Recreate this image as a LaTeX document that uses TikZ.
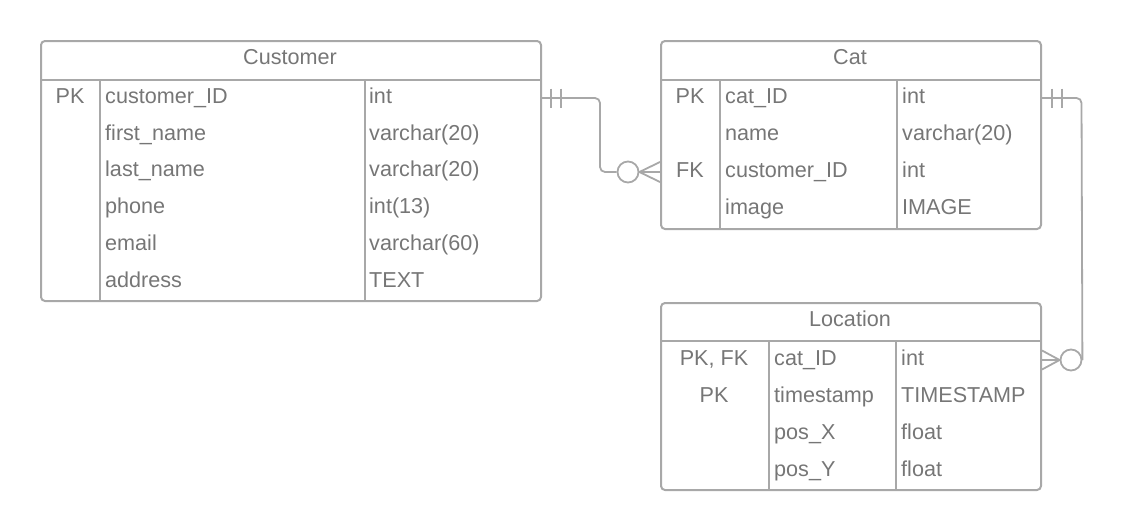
\documentclass[tikz,border=0pt]{standalone}
\usepackage{fontspec}
\setmainfont{Liberation Sans}
\usetikzlibrary{calc}
\definecolor{txt}{HTML}{767676}
\definecolor{ln}{HTML}{A8A8A8}
\begin{document}
\begin{tikzpicture}[x=1pt,y=-1pt,
  tblbox/.style={draw=ln, line width=2pt, rounded corners=4pt, inner sep=0pt, anchor=north west},
  sep/.style={draw=ln, line width=2pt},
  conn/.style={draw=ln, line width=1.8pt},
  ring/.style={circle, draw=ln, line width=1.8pt, minimum size=21pt, inner sep=0pt},
  lbl/.style={text=txt, inner sep=0pt, font=\fontsize{21.6}{23}\selectfont},
  lw/.style={lbl, anchor=base west},
  lc/.style={lbl, anchor=base}]
\useasboundingbox (0,0) rectangle (1122,530);

% ---------- Customer ----------
\node[tblbox, minimum width=500pt, minimum height=260pt] (customer) at (40,40) {};
\draw[sep] (customer.west |- 0,80) -- (customer.east |- 0,80);
\draw[sep] (100,80) -- (100,300);
\draw[sep] (365,80) -- (365,300);
\node[lc] (custh) at (290,64.5) {Customer};
\node[lc] (cpk) at (70,103.5) {PK};
\node[lw] (cn1) at (105,103.5) {customer\_ID};
\node[lw] (cn2) at (105,140.2) {first\_name};
\node[lw] (cn3) at (105,176.9) {last\_name};
\node[lw] (cn4) at (105,213.6) {phone};
\node[lw] (cn5) at (105,250.3) {email};
\node[lw] (cn6) at (105,287.0) {address};
\node[lw] (ct1) at (369,103.5) {int};
\node[lw] (ct2) at (369,140.2) {varchar(20)};
\node[lw] (ct3) at (369,176.9) {varchar(20)};
\node[lw] (ct4) at (369,213.6) {int(13)};
\node[lw] (ct5) at (369,250.3) {varchar(60)};
\node[lw] (ct6) at (369,287.0) {TEXT};

% ---------- Cat ----------
\node[tblbox, minimum width=380pt, minimum height=188pt] (cat) at (660,40) {};
\draw[sep] (cat.west |- 0,80) -- (cat.east |- 0,80);
\draw[sep] (720,80) -- (720,228);
\draw[sep] (897,80) -- (897,228);
\node[lc] (cath) at (850,64.5) {Cat};
\node[lc] (kpk) at (690,103.5) {PK};
\node[lc] (kfk) at (690,177.5) {FK};
\node[lw] (kn1) at (725,103.5) {cat\_ID};
\node[lw] (kn2) at (725,140.5) {name};
\node[lw] (kn3) at (725,177.5) {customer\_ID};
\node[lw] (kn4) at (725,214.5) {image};
\node[lw] (kt1) at (902,103.5) {int};
\node[lw] (kt2) at (902,140.5) {varchar(20)};
\node[lw] (kt3) at (902,177.5) {int};
\node[lw] (kt4) at (902,214.5) {IMAGE};

% ---------- Location ----------
\node[tblbox, minimum width=380pt, minimum height=187pt] (loc) at (660,302) {};
\draw[sep] (loc.west |- 0,341) -- (loc.east |- 0,341);
\draw[sep] (769,341) -- (769,489);
\draw[sep] (896,341) -- (896,489);
\node[lc] (loch) at (850,326.5) {Location};
\node[lc] (lk1) at (714,365) {PK, FK};
\node[lc] (lk2) at (714,402) {PK};
\node[lw] (ln1) at (774,365) {cat\_ID};
\node[lw] (ln2) at (774,402) {timestamp};
\node[lw] (ln3) at (774,439) {pos\_X};
\node[lw] (ln4) at (774,476) {pos\_Y};
\node[lw] (lt1) at (901,365) {int};
\node[lw] (lt2) at (901,402) {TIMESTAMP};
\node[lw] (lt3) at (901,439) {float};
\node[lw] (lt4) at (901,476) {float};

% ---------- Customer -> Cat ----------
\coordinate (e1s) at (customer.east |- 0,98);
\coordinate (e1t) at (cat.west |- 0,172);
\node[ring] (o1) at (628,172) {};
\draw[conn, rounded corners=5pt] (e1s) -- (600,98) -- (600,172) -- (o1.west);
\draw[conn] (551,88.5) -- (551,107.5);
\draw[conn] (561,88.5) -- (561,107.5);
\draw[conn] (o1.east) -- (e1t);
\draw[conn] (o1.east) -- ($(e1t)+(0,-10)$);
\draw[conn] (o1.east) -- ($(e1t)+(0,10)$);

% ---------- Cat -> Location ----------
\coordinate (e2s) at (cat.east |- 0,98);
\coordinate (e2t) at (loc.east |- 0,360);
\node[ring] (o2) at (1071,360) {};
\draw[conn, rounded corners=5pt] (e2s) -- (1081.5,98) -- (o2.east);
\draw[conn] (1052,88.5) -- (1052,107.5);
\draw[conn] (1062,88.5) -- (1062,107.5);
\draw[conn] (o2.west) -- (e2t);
\draw[conn] (o2.west) -- ($(e2t)+(0,-9.5)$);
\draw[conn] (o2.west) -- ($(e2t)+(0,9.5)$);
\end{tikzpicture}
\end{document}
